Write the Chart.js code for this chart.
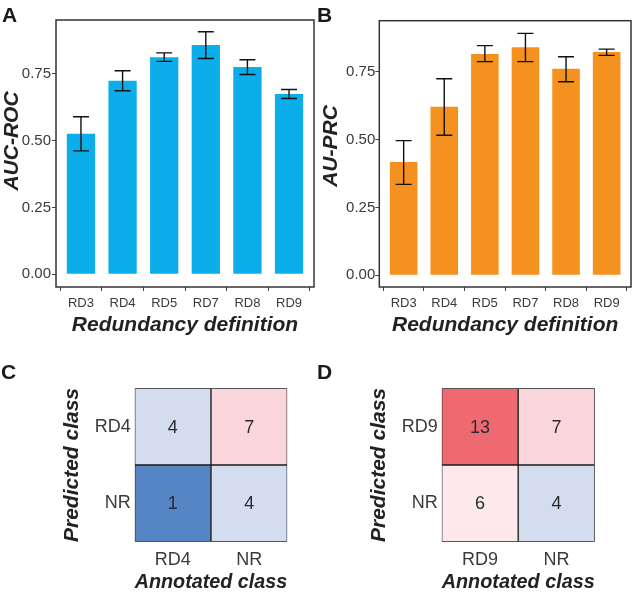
<!DOCTYPE html>
<html>
<head>
<meta charset="utf-8">
<script src="https://cdn.jsdelivr.net/npm/chart.js@4.4.1/dist/chart.umd.min.js"></script>
<style>
  body { margin: 0; background: #fff; }
  #wrap { position: relative; width: 632px; height: 593px; overflow: hidden; background: #fff; }
  canvas { position: absolute; }
  .tag { position: absolute; font: bold 21px "Liberation Sans", Arial, sans-serif; line-height: 1; color: #1a1a1a; }
</style>
</head>
<body>
<div id="wrap">
  <canvas id="chartA" width="316" height="345" style="left:0;top:0;width:316px;height:345px"></canvas>
  <canvas id="chartB" width="316" height="345" style="left:316px;top:0;width:316px;height:345px"></canvas>
  <canvas id="chartC" width="316" height="248" style="left:0;top:345px;width:316px;height:248px"></canvas>
  <canvas id="chartD" width="316" height="248" style="left:316px;top:345px;width:316px;height:248px"></canvas>
  <div class="tag" style="left:2px;top:4px">A</div>
  <div class="tag" style="left:317px;top:4px">B</div>
  <div class="tag" style="left:1px;top:361px">C</div>
  <div class="tag" style="left:317px;top:361px">D</div>
</div>
<script>
// bar panels
const categories = ["RD3", "RD4", "RD5", "RD7", "RD8", "RD9"];
const aucRoc = [0.526, 0.725, 0.813, 0.858, 0.776, 0.675];
const aucRocLow = [0.462, 0.687, 0.797, 0.808, 0.748, 0.658];
const aucRocHigh = [0.590, 0.762, 0.829, 0.908, 0.803, 0.692];
const auPrc = [0.417, 0.621, 0.815, 0.840, 0.761, 0.822];
const auPrcLow = [0.335, 0.516, 0.787, 0.787, 0.713, 0.810];
const auPrcHigh = [0.496, 0.724, 0.846, 0.891, 0.805, 0.833];
const yTicks = [0, 0.25, 0.5, 0.75];

// confusion matrices (rows = predicted, cols = annotated)
const classesC = ["RD4", "NR"];
const matrixC = [[4, 7], [1, 4]];
const colorsC = [["#d3ddef", "#fad5da"], ["#5585c5", "#d3ddef"]];
const classesD = ["RD9", "NR"];
const matrixD = [[13, 7], [6, 4]];
const colorsD = [["#ef6a70", "#fad5da"], ["#fde9ec", "#d3ddef"]];

Chart.defaults.font.family = '"Liberation Sans", Arial, sans-serif';
Chart.defaults.color = "#3a3a3a";
Chart.defaults.animation = false;
Chart.defaults.events = [];

const titleFont = { size: 21, weight: "bold", style: "italic", lineHeight: 1 };

const framePlugin = {
  id: "frame",
  afterDraw(chart, args, opts) {
    if (!opts.show) return;
    const { ctx, chartArea: a } = chart;
    ctx.save();
    ctx.strokeStyle = "#333";
    ctx.lineWidth = 1.5;
    ctx.strokeRect(a.left, a.top, a.right - a.left, a.bottom - a.top);
    // rotated y title (ggplot puts it a little higher than the panel centre here)
    if (opts.yTitle) {
      ctx.fillStyle = "#222";
      ctx.font = 'italic bold 21px "Liberation Sans", Arial, sans-serif';
      ctx.textAlign = "center";
      ctx.textBaseline = "middle";
      ctx.translate(opts.yTitleX, opts.yTitleY);
      ctx.rotate(-Math.PI / 2);
      ctx.fillText(opts.yTitle, 0, 0);
    }
    ctx.restore();
  }
};

const errorBarPlugin = {
  id: "errorBars",
  afterDatasetsDraw(chart, args, opts) {
    if (!opts.low) return;
    const { ctx, scales: { x, y } } = chart;
    ctx.save();
    ctx.strokeStyle = "#111";
    ctx.lineWidth = 1.4;
    opts.low.forEach((lo, i) => {
      const px = x.getPixelForValue(i + 1);
      const yl = y.getPixelForValue(lo);
      const yh = y.getPixelForValue(opts.high[i]);
      const half = 8;
      ctx.beginPath();
      ctx.moveTo(px, yl); ctx.lineTo(px, yh);
      ctx.moveTo(px - half, yl); ctx.lineTo(px + half, yl);
      ctx.moveTo(px - half, yh); ctx.lineTo(px + half, yh);
      ctx.stroke();
    });
    ctx.restore();
  }
};

const cellTextPlugin = {
  id: "cellText",
  afterDatasetsDraw(chart, args, opts) {
    if (!opts.values) return;
    const { ctx } = chart;
    const meta = chart.getDatasetMeta(0);
    ctx.save();
    ctx.fillStyle = "#2a2a2a";
    ctx.font = '18px "Liberation Sans", Arial, sans-serif';
    ctx.textAlign = "center";
    ctx.textBaseline = "middle";
    meta.data.forEach((el, i) => {
      ctx.fillText(String(opts.values[i]), el.x, (el.y + el.base) / 2 + 1);
    });
    ctx.restore();
  }
};

function barChart(id, values, low, high, color, yTitle, yTitlePos, yMin, yMax, pad, yWidth, yTickPad) {
  return new Chart(document.getElementById(id), {
    type: "bar",
    data: {
      datasets: [{
        data: categories.map((c, i) => ({ x: i + 1, y: values[i] })),
        backgroundColor: color,
        borderWidth: 0,
        barPercentage: 0.68,
        categoryPercentage: 1
      }]
    },
    options: {
      responsive: false,
      devicePixelRatio: 1,
      layout: { padding: pad },
      plugins: {
        legend: { display: false },
        tooltip: { enabled: false },
        frame: { show: true, yTitle: yTitle, yTitleX: yTitlePos[0], yTitleY: yTitlePos[1] },
        errorBars: { low: low, high: high }
      },
      scales: {
        x: {
          type: "linear",
          offset: false,
          min: 0.4,
          max: 6.6,
          afterBuildTicks: (s) => { s.ticks = categories.map((c, i) => ({ value: i + 1 })); },
          afterFit: (s) => { s.height = 345 - 287; },
          grid: { drawOnChartArea: false, drawTicks: true, tickLength: 4, color: "#444" },
          border: { display: false },
          ticks: { callback: (v) => categories[v - 1], font: { size: 13 }, padding: 5, autoSkip: false, maxRotation: 0 },
          title: { display: true, text: "Redundancy definition", font: titleFont, color: "#222", padding: { bottom: 9 } }
        },
        y: {
          min: yMin,
          max: yMax,
          afterBuildTicks: (s) => { s.ticks = yTicks.map((v) => ({ value: v })); },
          afterFit: (s) => { s.width = yWidth; },
          grid: { drawOnChartArea: false, drawTicks: true, tickLength: 4, color: "#444" },
          border: { display: false },
          ticks: { callback: (v) => v.toFixed(2), font: { size: 15 }, padding: yTickPad }
        }
      }
    },
    plugins: [framePlugin, errorBarPlugin]
  });
}

function matrixChart(id, classes, matrix, colors, pad, yWidth, yTitlePad) {
  const cells = [];
  const fills = [];
  const vals = [];
  matrix.forEach((row, r) => {
    row.forEach((v, c) => {
      const top = classes.length - r;
      cells.push({ x: c + 0.5, y: [top - 1, top] });
      fills.push(colors[r][c]);
      vals.push(v);
    });
  });
  return new Chart(document.getElementById(id), {
    type: "bar",
    data: {
      datasets: [{
        data: cells,
        backgroundColor: fills,
        borderColor: "#1c1c1c",
        borderWidth: 1,
        borderSkipped: false,
        barPercentage: 1,
        categoryPercentage: 1
      }]
    },
    options: {
      responsive: false,
      devicePixelRatio: 1,
      layout: { padding: pad },
      plugins: {
        legend: { display: false },
        tooltip: { enabled: false },
        cellText: { values: vals }
      },
      scales: {
        x: {
          type: "linear",
          offset: false,
          min: 0,
          max: 2,
          afterBuildTicks: (s) => { s.ticks = classes.map((c, i) => ({ value: i + 0.5 })); },
          afterFit: (s) => { s.height = 248 - pad.bottomEdge; },
          grid: { display: false, drawTicks: false },
          border: { display: false },
          ticks: { callback: (v) => classes[Math.round(v - 0.5)], font: { size: 18 }, padding: 8, autoSkip: false, maxRotation: 0 },
          title: { display: true, text: "Annotated class", font: titleFont, color: "#222", padding: { bottom: 0 } }
        },
        y: {
          min: 0,
          max: 2,
          afterBuildTicks: (s) => { s.ticks = classes.map((c, i) => ({ value: i + 0.5 })); },
          afterFit: (s) => { s.width = yWidth; },
          grid: { display: false, drawTicks: false },
          border: { display: false },
          ticks: { callback: (v) => classes[classes.length - 1 - Math.round(v - 0.5)], font: { size: 18 }, padding: 4 },
          title: { display: true, text: "Predicted class", font: titleFont, color: "#222", padding: { top: yTitlePad } }
        }
      }
    },
    plugins: [cellTextPlugin]
  });
}

barChart("chartA", aucRoc, aucRocLow, aucRocHigh, "#0caeea", "AUC-ROC", [12, 141], -0.0475, 0.952,
  { top: 20, right: 2, left: 0, bottom: 0 }, 56, 1);
barChart("chartB", auPrc, auPrcLow, auPrcHigh, "#f5921f", "AU-PRC", [15, 146], -0.0431, 0.9377,
  { top: 20.7, right: 1, left: 0, bottom: 0 }, 63.3, 0);

matrixChart("chartC", classesC, matrixC, colorsC,
  { top: 43.3, right: 28.7, left: 0, bottom: 0, bottomEdge: 196.7 }, 134.7, 62);
matrixChart("chartD", classesD, matrixD, colorsD,
  { top: 43.3, right: 37.3, left: 0, bottom: 0, bottomEdge: 196.7 }, 125.7, 53);
</script>
</body>
</html>
